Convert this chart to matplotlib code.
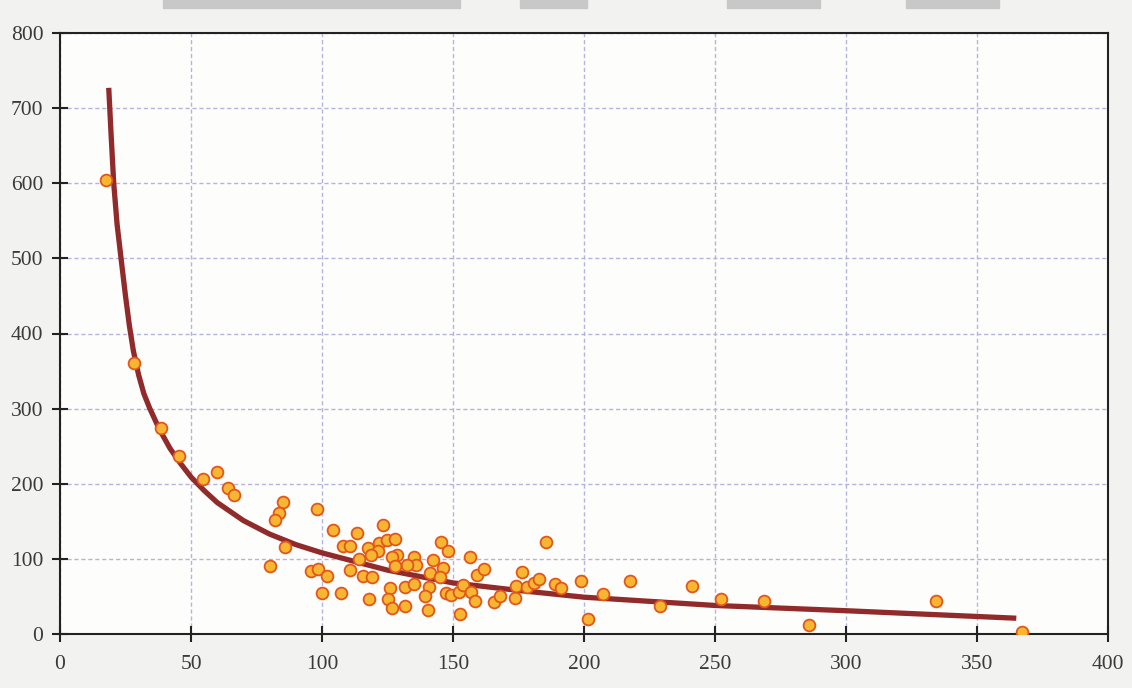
import matplotlib
matplotlib.use("Agg")
import matplotlib.pyplot as plt
from matplotlib.patches import Rectangle

# scatter points
pts_x = [17.5, 28.4, 38.4, 45.5, 54.6, 60.0, 64.1, 66.4, 85.0, 83.4, 81.9, 85.7, 80.0,
         98.0, 104.3, 113.3, 123.1, 108.1, 110.8, 117.4, 121.8, 124.7, 127.9, 121.4, 118.6,
         114.2, 128.8, 126.9, 135.1, 135.7, 132.3, 127.9, 95.8, 98.6, 101.8, 110.8, 115.5,
         118.9, 99.9, 107.2, 118.0, 126.0, 125.2, 126.9, 131.7, 131.7, 135.1, 140.8, 139.5,
         140.5, 142.4, 141.4, 146.3, 145.6, 148.2, 145.2, 147.4, 149.4, 152.6, 152.2, 153.8,
         156.3, 157.0, 158.3, 159.2, 161.7, 165.8, 168.1, 173.8, 176.3, 174.0, 178.2, 181.1,
         182.9, 185.4, 189.0, 191.1, 198.9, 201.4, 207.1, 217.5, 228.9, 241.2, 252.3, 268.6,
         285.7, 334.3, 367.0]
pts_y = [604, 361, 274, 237, 206, 216, 194, 185, 176, 161, 152, 116, 90,
         167, 139, 134, 145, 117, 117, 114, 121, 125, 127, 110, 105,
         100, 105, 103, 102, 92, 92, 91, 84, 86, 77, 85, 77,
         76, 54, 54, 46, 61, 46, 34, 63, 37, 67, 63, 51,
         32, 99, 81, 88, 122, 110, 76, 54, 52, 26, 56, 65,
         102, 56, 44, 79, 87, 43, 51, 48, 82, 64, 63, 68,
         73, 122, 67, 61, 71, 20, 53, 70, 37, 64, 46, 44,
         12, 44, 3]

# trend curve
curve_x = [18.6, 19.5, 20.5, 21.8, 23.3, 25, 26.5, 28, 30, 32, 34.3, 38, 42, 46, 50, 55,
           60, 70, 80, 90, 100, 125, 150, 175, 200, 250, 300, 365]
curve_y = [727, 665, 600, 545, 500, 450, 410, 377, 345, 320, 300, 272, 247, 227, 209, 191,
           175, 151, 133, 119, 108, 85, 68, 58, 49, 38, 31, 21]

x_ticks = [0, 50, 100, 150, 200, 250, 300, 350, 400]
y_ticks = [0, 100, 200, 300, 400, 500, 600, 700, 800]

plt.rcParams['font.family'] = ['Liberation Serif', 'DejaVu Serif']

fig = plt.figure(figsize=(11.32, 6.88), dpi=100, facecolor='#f2f3f1')
ax = fig.add_axes([60/1132, 54/688, 1048/1132, 601/688])
ax.set_facecolor('#fdfdfb')

ax.set_xlim(0, 400)
ax.set_ylim(0, 800)
ax.set_xticks(x_ticks)
ax.set_yticks(y_ticks)
ax.grid(True, color='#b4b4dc', linestyle=(0, (3, 2)), linewidth=1)
ax.set_axisbelow(True)

ax.plot(curve_x, curve_y, color='#912a2a', linewidth=3.8, solid_joinstyle='round',
        solid_capstyle='butt', zorder=2)
ax.scatter(pts_x, pts_y, s=72, facecolor='#f6b632', edgecolor='#e2561c',
           linewidth=1.3, zorder=3)

for sp in ax.spines.values():
    sp.set_color('#222222')
    sp.set_linewidth(1.5)
ax.tick_params(axis='both', direction='inout', length=12, width=1.5, color='#222222',
               labelsize=15.5, labelcolor='#3a3a3a')
ax.tick_params(axis='x', pad=9)
ax.tick_params(axis='y', pad=6)

# grey strips along the top edge of the scan
for x0, w in [(163, 297), (520, 67), (727, 93), (906, 93)]:
    fig.patches.append(Rectangle((x0/1132, 680/688), w/1132, 8/688,
                                 transform=fig.transFigure, color='#c8c8c8'))

fig.savefig('out.png', dpi=100, facecolor=fig.get_facecolor())
